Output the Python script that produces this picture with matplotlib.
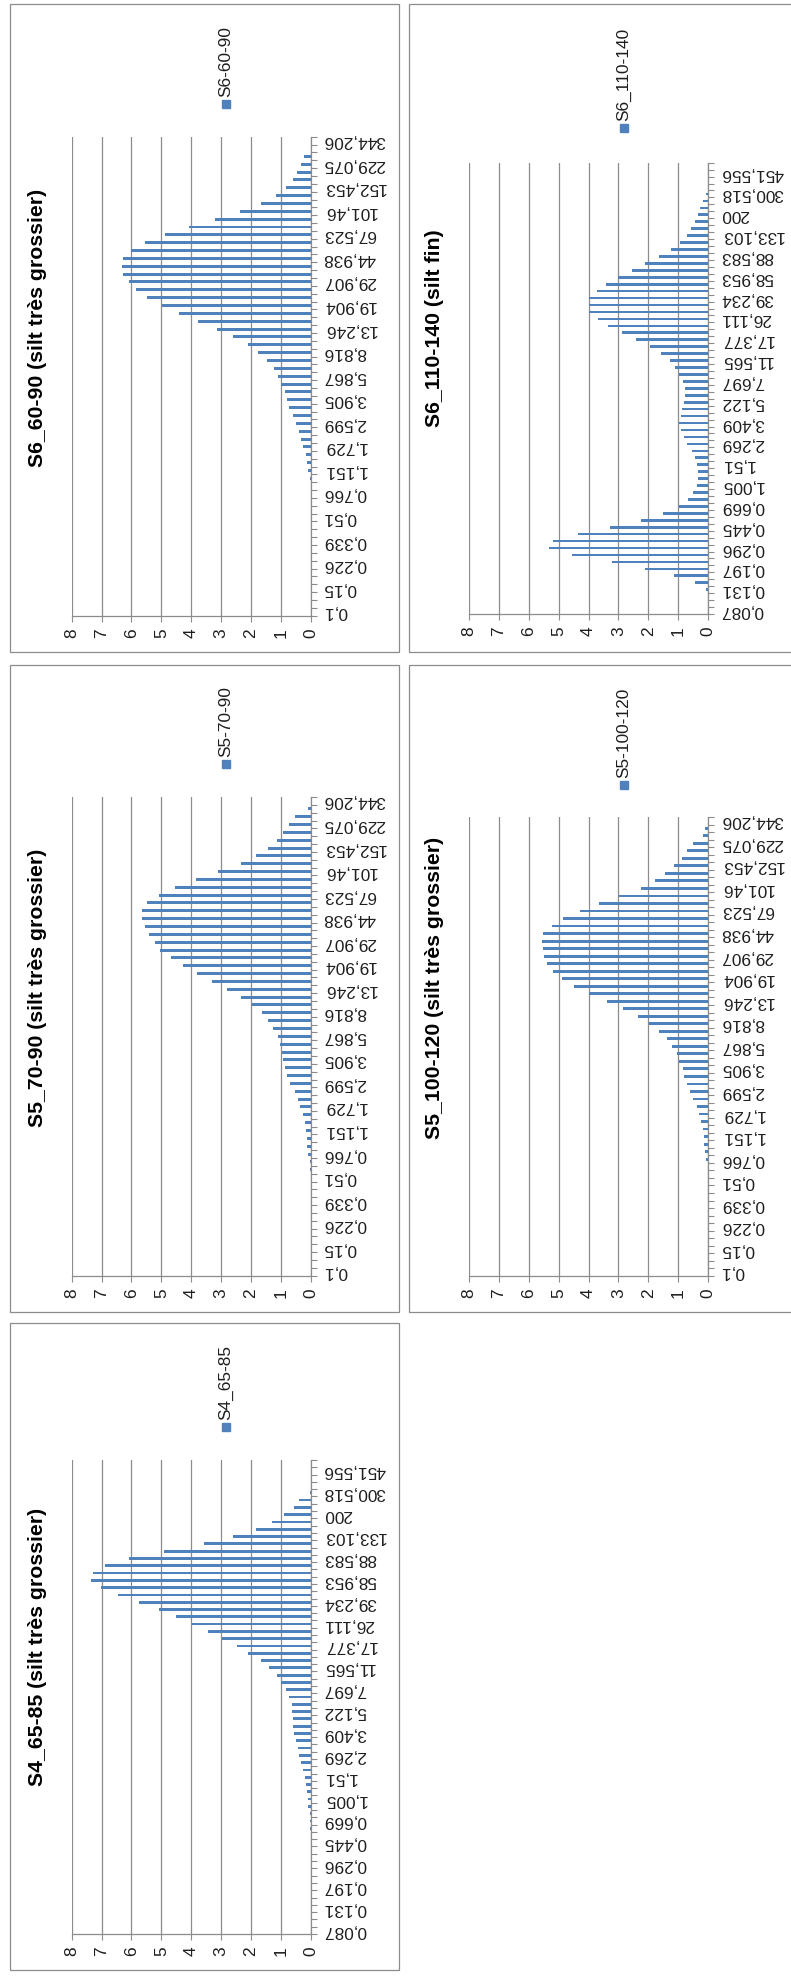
import matplotlib
matplotlib.use('Agg')
import matplotlib.pyplot as plt
from matplotlib.patches import Rectangle

plt.rcParams['font.family'] = ['Liberation Sans', 'DejaVu Sans']

# ---------------- data ----------------
# grain-size classes (µm), set A: 0.1 -> 344.206 ; set B: 0.087 -> 517.2
sizes_a = ["0,1", "0,115", "0,131", "0,15", "0,172", "0,197", "0,226", "0,259", "0,296",
           "0,339", "0,389", "0,445", "0,51", "0,584", "0,669", "0,766", "0,877", "1,005",
           "1,151", "1,318", "1,51", "1,729", "1,981", "2,269", "2,599", "2,976", "3,409",
           "3,905", "4,472", "5,122", "5,867", "6,72", "7,697", "8,816", "10,097", "11,565",
           "13,246", "15,172", "17,377", "19,904", "22,797", "26,111", "29,907", "34,255",
           "39,234", "44,938", "51,471", "58,953", "67,523", "77,339", "88,583", "101,46",
           "116,21", "133,103", "152,453", "174,616", "200", "229,075", "262,376", "300,518",
           "344,206"]
sizes_b = ["0,087"] + sizes_a + ["394,244", "451,556", "517,2"]

s6_60_90 = [0] * 17 + [
    0.04, 0.08, 0.11, 0.17, 0.27, 0.31, 0.39, 0.49, 0.60, 0.71,
    0.80, 0.85, 0.98, 1.08, 1.22, 1.47, 1.75, 2.11, 2.59, 3.13,
    3.78, 4.40, 4.99, 5.47, 5.84, 6.08, 6.27, 6.31, 6.27, 6.02,
    5.54, 4.87, 4.06, 3.19, 2.37, 1.65, 1.16, 0.84, 0.60, 0.45,
    0.31, 0.23] + [0, 0]

s6_110_140 = [0, 0, 0] + [
    0.08, 0.43, 1.13, 2.11, 3.23, 4.56, 5.31, 5.17, 4.34, 3.27,
    2.25, 1.50, 0.99, 0.67, 0.50, 0.39, 0.33, 0.34, 0.38, 0.43,
    0.56, 0.71, 0.82, 0.91, 0.97, 0.91, 0.88, 0.82, 0.79, 0.79,
    0.86, 0.97, 1.11, 1.28, 1.57, 1.94, 2.40, 2.87, 3.34, 3.69,
    3.97, 4.00, 3.97, 3.73, 3.40, 3.00, 2.54, 2.11, 1.65, 1.23,
    0.93, 0.72, 0.57, 0.46, 0.33, 0.27, 0.17, 0.08] + [0, 0, 0, 0]

s5_70_90 = [0] * 13 + [
    0.02, 0.04, 0.08, 0.11, 0.13, 0.16, 0.19, 0.27, 0.36, 0.41,
    0.52, 0.69, 0.78, 0.85, 0.92, 0.97, 1.03, 1.10, 1.25, 1.42,
    1.64, 1.98, 2.33, 2.81, 3.30, 3.82, 4.29, 4.68, 5.04, 5.22,
    5.40, 5.54, 5.66, 5.66, 5.47, 5.07, 4.54, 3.85, 3.09, 2.34,
    1.83, 1.44, 1.14, 0.94, 0.71, 0.52, 0.10] + [0]

s5_100_120 = [0] * 14 + [
    0.02, 0.08, 0.10, 0.13, 0.16, 0.19, 0.24, 0.30, 0.39, 0.50,
    0.60, 0.71, 0.82, 0.86, 0.99, 1.06, 1.21, 1.39, 1.66, 1.99,
    2.36, 2.86, 3.39, 3.97, 4.47, 4.88, 5.19, 5.38, 5.50, 5.53,
    5.55, 5.51, 5.22, 4.86, 4.30, 3.66, 2.99, 2.25, 1.78, 1.43,
    1.13, 0.88, 0.71, 0.50, 0.19, 0.10] + [0]

s4_65_85 = [0] * 14 + [
    0.01, 0.02, 0.04, 0.08, 0.10, 0.13, 0.17, 0.19, 0.25, 0.33,
    0.38, 0.41, 0.49, 0.55, 0.58, 0.58, 0.61, 0.64, 0.71, 0.83,
    0.99, 1.14, 1.41, 1.67, 2.09, 2.48, 2.96, 3.43, 3.96, 4.51,
    5.07, 5.74, 6.45, 7.02, 7.35, 7.28, 6.89, 6.08, 4.90, 3.56,
    2.59, 1.83, 1.29, 0.89, 0.56, 0.38, 0.04] + [0, 0, 0, 0]

titles = ["S6_60-90 (silt très grossier)", "S6_110-140 (silt fin)",
          "S5_70-90 (silt très grossier)", "S5_100-120 (silt très grossier)",
          "S4_65-85 (silt très grossier)"]
legend_names = ["S6-60-90", "S6_110-140", "S5-70-90", "S5-100-120", "S4_65-85"]
value_ticks = [0, 1, 2, 3, 4, 5, 6, 7, 8]

# ---------------- layout (pixels) ----------------
W, H = 791, 1980
fig = plt.figure(figsize=(W / 100, H / 100), dpi=100)
fig.patch.set_facecolor('white')


def fx(x):
    return x / W


def fy(y):
    return 1 - y / H


BAR = '#4F81BD'
GRID = '#8C8C8C'
TXT = '#1E1E1E'

panels = [
    dict(cats=sizes_a, vals=s6_60_90, box=(10, 4, 398.5, 652), plot=(71.7, 136.7, 310.7, 615.7),
         leg=(225.5, 104.4), title=(37.8, 328)),
    dict(cats=sizes_b, vals=s6_110_140, box=(409, 4, 792, 652), plot=(468.7, 162.7, 708.3, 614.0),
         leg=(624, 127.6), title=(435, 328)),
    dict(cats=sizes_a, vals=s5_70_90, box=(10, 665, 398.5, 1312), plot=(71.7, 797, 310.7, 1275.7),
         leg=(225.5, 764.4), title=(37.8, 988)),
    dict(cats=sizes_a, vals=s5_100_120, box=(409, 665, 792, 1312), plot=(468.7, 817, 708.3, 1275.7),
         leg=(624, 785), title=(435, 988)),
    dict(cats=sizes_b, vals=s4_65_85, box=(10, 1323, 398.5, 1970), plot=(71.7, 1460, 310.7, 1934),
         leg=(225.5, 1427), title=(37.8, 1647)),
]

for p, title, lname in zip(panels, titles, legend_names):
    bx0, by0, bx1, by1 = p['box']
    fig.patches.append(Rectangle((fx(bx0), fy(by1)), (bx1 - bx0) / W, (by1 - by0) / H,
                                 transform=fig.transFigure, fill=False, ec=GRID, lw=0.9))
    x0, y0, x1, y1 = p['plot']
    ax = fig.add_axes([fx(x0), fy(y1), (x1 - x0) / W, (y1 - y0) / H])
    cats, vals = p['cats'], p['vals']
    n = len(cats)
    ax.barh(range(n), vals, height=0.38, color=BAR, zorder=3)
    ax.set_xlim(8, 0)
    ax.set_ylim(-0.5, n - 0.5)
    ax.set_facecolor('none')

    ax.set_xticks(value_ticks)
    ax.set_xticklabels([str(v) for v in value_ticks], rotation=90)
    ax.xaxis.grid(True, color=GRID, lw=0.9, zorder=0)
    ax.set_axisbelow(True)

    ax.yaxis.tick_right()
    ax.set_yticks(range(0, n, 3))
    ax.set_yticklabels(cats[::3], rotation=180, ha='left', va='center')
    ax.set_yticks([i - 0.5 for i in range(n + 1)], minor=True)

    ax.tick_params(axis='y', which='major', length=0, pad=9, labelsize=12.4, labelcolor=TXT)
    ax.tick_params(axis='y', which='minor', length=4.5, width=0.8, color=GRID, direction='out')
    ax.tick_params(axis='x', length=4, width=0.8, color=GRID, pad=5, labelsize=12.4, labelcolor=TXT)

    for s in ['top', 'left']:
        ax.spines[s].set_visible(False)
    for s in ['right', 'bottom']:
        ax.spines[s].set_color(GRID)
        ax.spines[s].set_linewidth(0.9)

    # title
    tx, ty = p['title']
    fig.text(fx(tx), fy(ty), title, rotation=90, ha='center', va='center',
             fontsize=15.3, fontweight='bold', color='black')

    # legend
    lx, ly = p['leg']
    sq = 8
    fig.patches.append(Rectangle((fx(lx - sq / 2), fy(ly + sq / 2)), sq / W, sq / H,
                                 transform=fig.transFigure, color=BAR))
    fig.text(fx(lx), fy(ly - 7), lname, rotation=90, ha='center', va='bottom',
             fontsize=12.4, color=TXT)

fig.savefig('out.png', dpi=100, facecolor='white')
